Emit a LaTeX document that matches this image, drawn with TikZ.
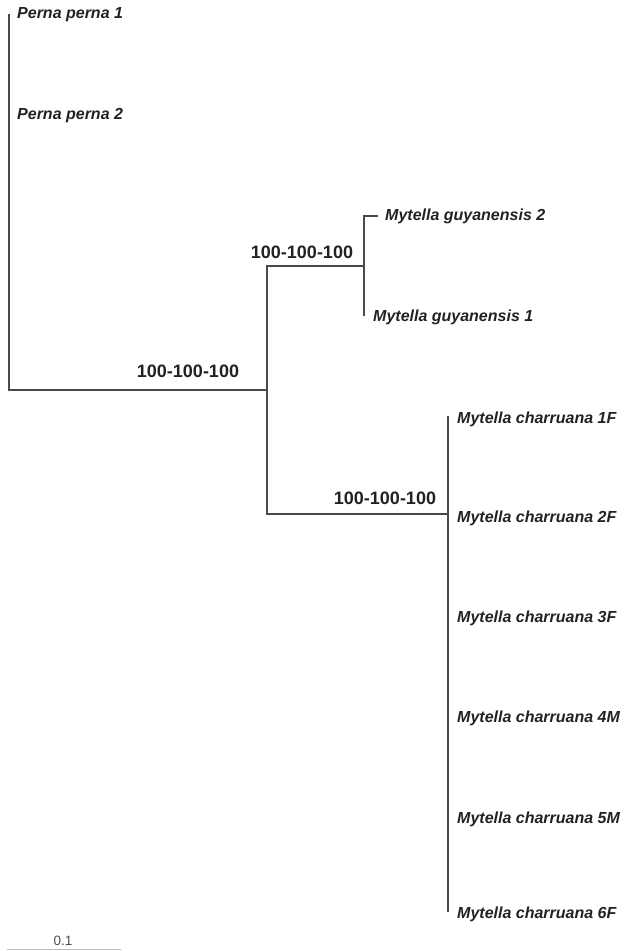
\documentclass[tikz,border=0pt]{standalone}
\usepackage{fontspec}
\setmainfont{Liberation Sans}
\definecolor{branch}{HTML}{4A4A4A}
\definecolor{txt}{HTML}{222222}
\definecolor{scalec}{HTML}{BDBDBD}
\begin{document}
\begin{tikzpicture}[x=1pt,y=-1pt,
  branch/.style={draw=branch,line width=1.5pt,line cap=rect},
  taxon/.style={anchor=west,inner sep=0pt,text=txt,font=\fontsize{16}{19}\selectfont\bfseries\itshape},
  support/.style={inner sep=0pt,text=txt,font=\fontsize{18}{21}\selectfont\bfseries},
  scalelabel/.style={inner sep=0pt,text=txt!80,font=\fontsize{13.5}{16}\selectfont}]
\useasboundingbox (0,0) rectangle (627,951);
% internal nodes
\coordinate (root) at (9,390);
\coordinate (rootTop) at (9,15);
\coordinate (A) at (267,390);
\coordinate (Atop) at (267,266);
\coordinate (Abot) at (267,514);
\coordinate (G) at (364,266);
\coordinate (Gtop) at (364,216);
\coordinate (Gbot) at (364,315);
\coordinate (C) at (448,514);
\coordinate (Ctop) at (448,417);
\coordinate (Cbot) at (448,911);
% leaf tips
\coordinate (g2tip) at (377,216);
% taxa labels
\node[taxon] (pp1) at (17,15) {Perna perna 1};
\node[taxon] (pp2) at (17,116) {Perna perna 2};
\node[taxon] (mg2) at (385,216) {Mytella guyanensis 2};
\node[taxon] (mg1) at (373,317) {Mytella guyanensis 1};
\node[taxon] (mc1) at (457,419) {Mytella charruana 1F};
\node[taxon] (mc2) at (457,518) {Mytella charruana 2F};
\node[taxon] (mc3) at (457,618) {Mytella charruana 3F};
\node[taxon] (mc4) at (457,718) {Mytella charruana 4M};
\node[taxon] (mc5) at (457,819) {Mytella charruana 5M};
\node[taxon] (mc6) at (457,914) {Mytella charruana 6F};
% support values
\node[support] (sRoot) at (188,371) {100-100-100};
\node[support] (sG) at (302,252) {100-100-100};
\node[support] (sC) at (385,498) {100-100-100};
% branches
\draw[branch] (rootTop) -- (root) -- (A);
\draw[branch] (Atop) -- (Abot);
\draw[branch] (Atop) -- (G);
\draw[branch] (Gtop) -- (Gbot);
\draw[branch] (Gtop) -- (g2tip);
\draw[branch] (Abot) -- (C);
\draw[branch] (Ctop) -- (Cbot);
% scale bar
\coordinate (sb1) at (7,949);
\coordinate (sb2) at (121,949);
\draw[draw=scalec,line width=1pt] (sb1) -- (sb2);
\node[scalelabel] (sbl) at (63,941) {0.1};
\end{tikzpicture}
\end{document}
